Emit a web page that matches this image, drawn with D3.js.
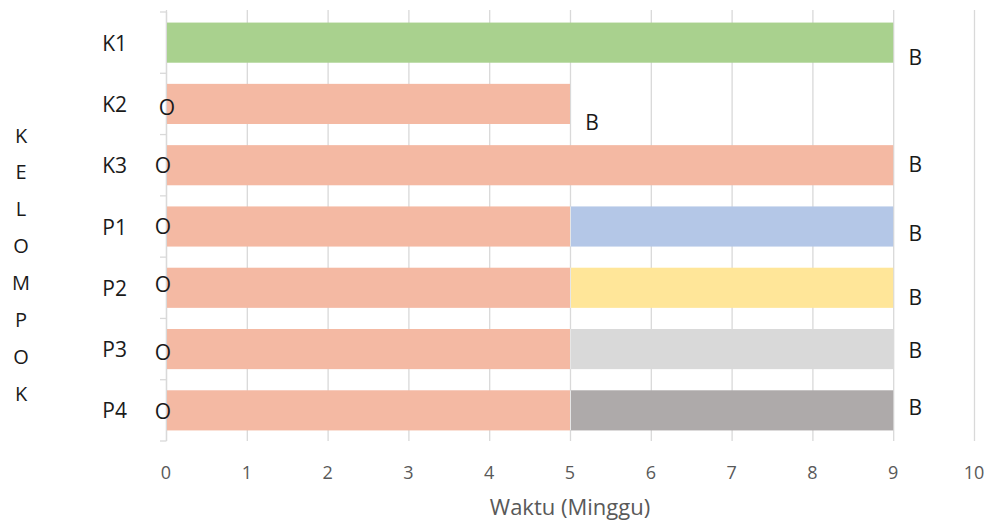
<!DOCTYPE html>
<html>
<head>
<meta charset="utf-8">
<script src="https://cdn.jsdelivr.net/npm/d3@7"></script>
<style>
  html, body { margin: 0; padding: 0; background: #ffffff; }
  svg { display: block; font-family: "Open Sans", "Noto Sans", sans-serif; }
</style>
</head>
<body>
<svg id="chart" width="989" height="525"></svg>
<script>
// Groups and the duration (weeks) of each phase
const kelompok = ["K1", "K2", "K3", "P1", "P2", "P3", "P4"];
const fase1 = [9, 5, 9, 5, 5, 5, 5];
const fase2 = [0, 0, 0, 4, 4, 4, 4];
const warnaFase1 = ["#a9d18e", "#f4b9a3", "#f4b9a3", "#f4b9a3", "#f4b9a3", "#f4b9a3", "#f4b9a3"];
const warnaFase2 = ["#a9d18e", "#f4b9a3", "#f4b9a3", "#b4c7e7", "#ffe699", "#d9d9d9", "#aeaaaa"];
const labelAwal = ["", "O", "O", "O", "O", "O", "O"];
const labelAkhir = ["B", "B", "B", "B", "B", "B", "B"];
const xTicks = [0, 1, 2, 3, 4, 5, 6, 7, 8, 9, 10];
const xTitle = "Waktu (Minggu)";
const yTitle = "KELOMPOK";

// Small vertical nudges for the start / end markers (px)
const nudgeAwal = [0, 3, 0, -1, -4, 3, 1];
const nudgeAkhir = [14, 18, -1, 6, 9, 1, -3];

const svg = d3.select("#chart");
const plot = { left: 166, right: 974, top: 12, bottom: 441 };

const x = d3.scaleLinear().domain([0, 10]).range([plot.left, plot.right]);
const y = d3.scaleBand().domain(kelompok).range([plot.top, plot.bottom]).paddingInner(0.345).paddingOuter(0.1725);

const grid = "#d9d9d9";
const ink = "#1a1a1a";
const gray = "#595959";

// vertical gridlines
svg.append("g").selectAll("line").data(xTicks).join("line")
  .attr("x1", d => x(d) + 0.5).attr("x2", d => x(d) + 0.5)
  .attr("y1", plot.top - 2).attr("y2", plot.bottom)
  .attr("stroke", grid).attr("stroke-width", 1.3);

// left axis with ticks at band boundaries
const bounds = kelompok.map(k => y(k) - y.step() * y.paddingInner() / 2).concat([plot.bottom]);
const yAxisG = svg.append("g");
yAxisG.append("line")
  .attr("x1", plot.left + 0.5).attr("x2", plot.left + 0.5)
  .attr("y1", plot.top).attr("y2", plot.bottom)
  .attr("stroke", grid).attr("stroke-width", 1.3);
yAxisG.selectAll("line.tk").data(bounds).join("line").attr("class", "tk")
  .attr("x1", plot.left - 6).attr("x2", plot.left + 0.5)
  .attr("y1", d => d).attr("y2", d => d)
  .attr("stroke", grid).attr("stroke-width", 1.3);

// bars: phase 1 then phase 2 stacked
const rows = kelompok.map((k, i) => ({ k, i, a: fase1[i], b: fase2[i] }));
const bars = svg.append("g");
bars.selectAll("rect.f1").data(rows).join("rect").attr("class", "f1")
  .attr("x", d => x(0) + 1).attr("y", d => y(d.k))
  .attr("width", d => x(d.a) - x(0) - 1).attr("height", y.bandwidth())
  .attr("fill", d => warnaFase1[d.i]);
bars.selectAll("rect.f2").data(rows.filter(d => d.b > 0)).join("rect").attr("class", "f2")
  .attr("x", d => x(d.a)).attr("y", d => y(d.k))
  .attr("width", d => x(d.a + d.b) - x(d.a)).attr("height", y.bandwidth())
  .attr("fill", d => warnaFase2[d.i]);

// thin seam where phase 2 begins
svg.append("g").selectAll("line").data(rows.filter(d => d.b > 0)).join("line")
  .attr("x1", d => x(d.a) + 0.5).attr("x2", d => x(d.a) + 0.5)
  .attr("y1", d => y(d.k)).attr("y2", d => y(d.k) + y.bandwidth())
  .attr("stroke", "#e6e6e6").attr("stroke-width", 1);

// start / end markers
const mid = d => y(d.k) + y.bandwidth() / 2;
svg.append("g").selectAll("text").data(rows.filter(d => labelAwal[d.i])).join("text")
  .attr("x", d => x(0) - 3 + (d.i === 1 ? 4 : 0)).attr("y", d => mid(d) + nudgeAwal[d.i])
  .attr("text-anchor", "middle").attr("dominant-baseline", "central")
  .attr("font-size", 21).attr("fill", ink)
  .text(d => labelAwal[d.i]);
svg.append("g").selectAll("text").data(rows).join("text")
  .attr("x", d => x(d.a + d.b) + 22).attr("y", d => mid(d) + nudgeAkhir[d.i])
  .attr("text-anchor", "middle").attr("dominant-baseline", "central")
  .attr("font-size", 21).attr("fill", ink)
  .text(d => labelAkhir[d.i]);

// category labels
svg.append("g").selectAll("text").data(kelompok).join("text")
  .attr("x", 127).attr("y", d => y(d) + y.bandwidth() / 2)
  .attr("text-anchor", "end").attr("dominant-baseline", "central")
  .attr("font-size", 21).attr("fill", ink)
  .text(d => d);

// x tick labels
svg.append("g").selectAll("text").data(xTicks).join("text")
  .attr("x", d => x(d)).attr("y", 479)
  .attr("text-anchor", "middle")
  .attr("font-size", 18).attr("fill", gray)
  .text(d => d);

// x axis title
svg.append("text")
  .attr("x", x(5)).attr("y", 515)
  .attr("text-anchor", "middle")
  .attr("font-size", 22).attr("fill", gray)
  .text(xTitle);

// y axis title, stacked letters
svg.append("g").selectAll("text").data(yTitle.split("")).join("text")
  .attr("x", 21).attr("y", (d, i) => 135 + i * 36.9)
  .attr("text-anchor", "middle").attr("dominant-baseline", "central")
  .attr("font-size", 20).attr("fill", ink)
  .text(d => d);
</script>
</body>
</html>
